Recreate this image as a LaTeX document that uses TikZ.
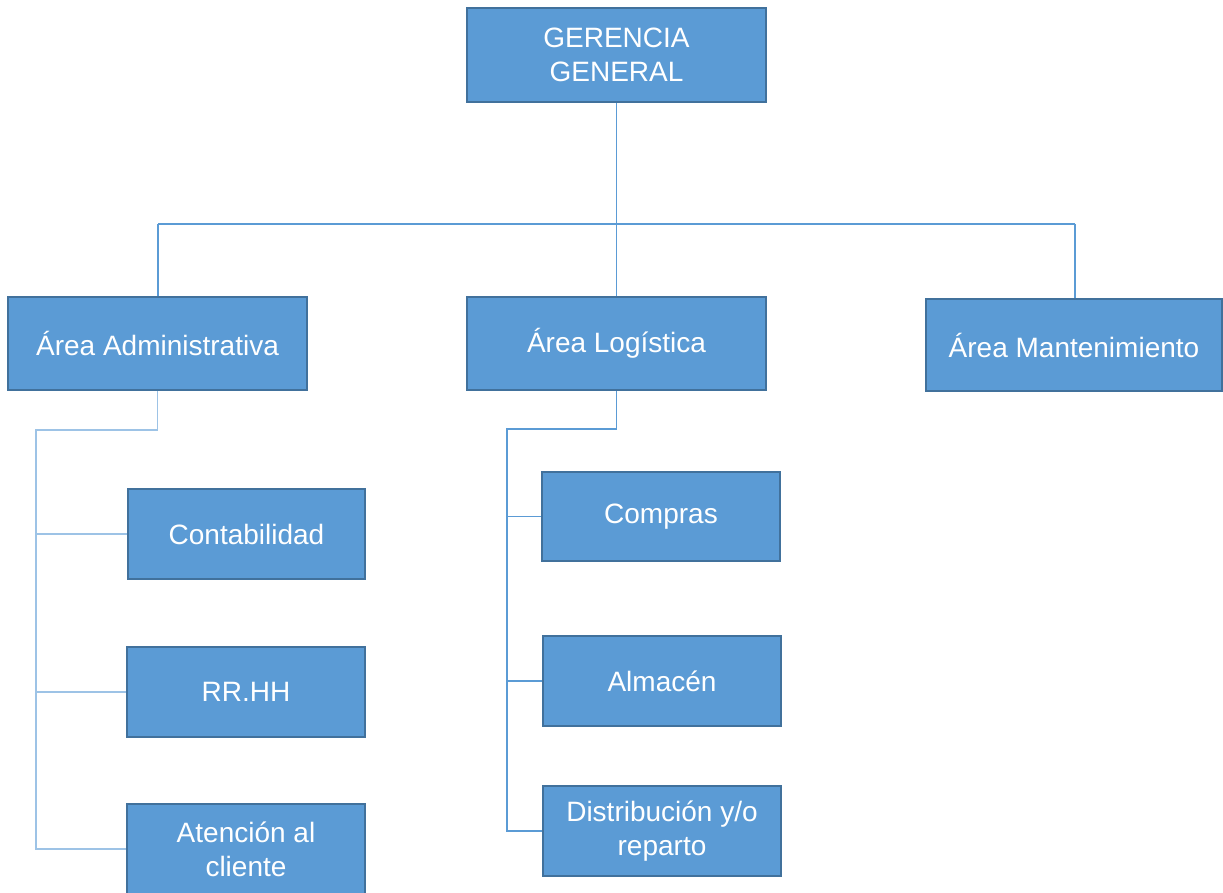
\documentclass[tikz,border=0pt]{standalone}
\usepackage{fontspec}
\setmainfont{Liberation Sans}
\definecolor{boxfill}{HTML}{5B9BD5}
\definecolor{boxline}{HTML}{41719C}
\definecolor{conn}{HTML}{5B9BD5}
\definecolor{connlight}{HTML}{9DC3E6}
\begin{document}
\begin{tikzpicture}[x=1pt,y=-1pt,
  orgbox/.style={draw=boxline,line width=1.8pt,fill=boxfill,text=white,
    font=\fontsize{28}{34}\selectfont,align=center,inner sep=0pt},
  link/.style={draw=conn,line width=1.2pt},
  linklight/.style={draw=connlight,line width=1.4pt}]
\useasboundingbox (0,0) rectangle (1223,893);
% boxes: corners given in pixels
\node[orgbox,minimum width=299pt,minimum height=94pt] (ger) at (616.5,55) {GERENCIA\\GENERAL};
\node[orgbox,minimum width=299pt,minimum height=93pt] (adm) at (157.5,343.5) {Área Administrativa};
\node[orgbox,minimum width=299pt,minimum height=93pt] (log) at (616.5,343.5) {Área Logística};
\node[orgbox,minimum width=296pt,minimum height=92pt] (man) at (1074,345) {Área Mantenimiento};
\node[orgbox,minimum width=237pt,minimum height=90pt] (con) at (246.5,534) {Contabilidad};
\node[orgbox,minimum width=238pt,minimum height=90pt] (rrh) at (246,692) {RR.HH};
\node[orgbox,minimum width=238pt,minimum height=90pt] (ate) at (246,849) {Atención al\\cliente};
\node[orgbox,minimum width=238pt,minimum height=89pt] (com) at (661,516.5) {Compras};
\node[orgbox,minimum width=238pt,minimum height=90pt] (alm) at (662,681) {Almacén};
\node[orgbox,minimum width=238pt,minimum height=90pt] (dis) at (662,831) {Distribución y/o\\reparto};
% coordinates
\coordinate (hL) at (158,224);
\coordinate (hR) at (1075,224);
\coordinate (aTurn) at (36,430);
\coordinate (lTurn) at (507,429);
% top level connectors
\draw[link] (ger.south) -- (log.north);
\draw[link] (hL) -- (hR);
\draw[link] (hL) -- (adm.north -| hL);
\draw[link] (hR) -- (man.north -| hR);
% administrative branch
\draw[linklight] (adm.south) |- (aTurn) -- (aTurn |- ate.west) -- (ate.west);
\draw[linklight] (aTurn |- con.west) -- (con.west);
\draw[linklight] (aTurn |- rrh.west) -- (rrh.west);
% logistics branch
\draw[link] (log.south) |- (lTurn) -- (lTurn |- dis.west) -- (dis.west);
\draw[link] (lTurn |- com.west) -- (com.west);
\draw[link] (lTurn |- alm.west) -- (alm.west);
\end{tikzpicture}
\end{document}
